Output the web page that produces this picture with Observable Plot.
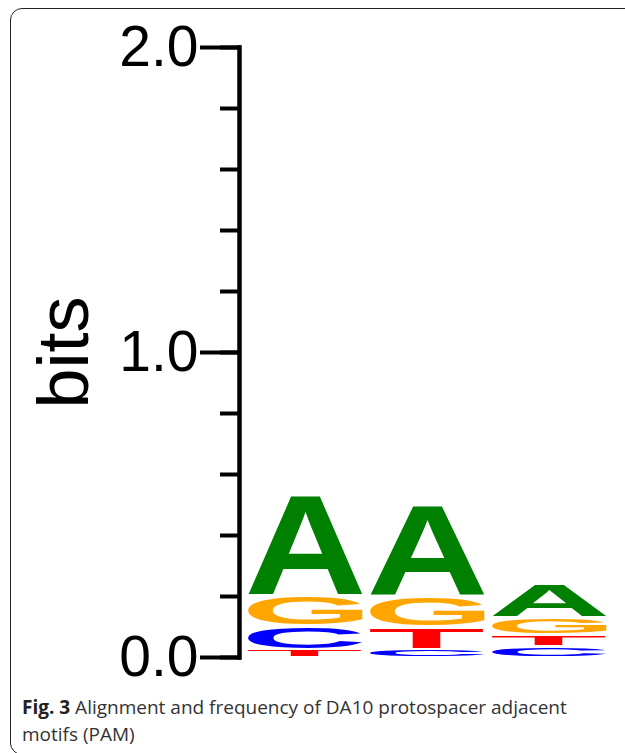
<!DOCTYPE html>
<html>
<head>
<meta charset="utf-8">
<script src="https://cdn.jsdelivr.net/npm/d3@7"></script>
<script src="https://cdn.jsdelivr.net/npm/@observablehq/plot@0.6"></script>
<style>
html, body { margin: 0; padding: 0; background: #fff; width: 625px; height: 753px; overflow: hidden; }
#frame { position: absolute; left: 10px; top: 8px; width: 700px; height: 747px; border: 1.5px solid #222; border-radius: 12px; box-sizing: border-box; }
#chart { position: absolute; left: 0; top: 0; }
#caption { position: absolute; left: 22px; top: 694px; width: 570px; font-family: "Open Sans"; font-size: 19px; line-height: 27px; color: #333; }
#caption b { color: #222; }
</style>
</head>
<body>
<div id="frame"></div>
<div id="chart"></div>
<div id="caption"><b>Fig. 3</b> Alignment and frequency of DA10 protospacer adjacent motifs (PAM)</div>
<script>
// Data (bits per letter at each PAM position)
const positions = [1, 2, 3];
const letters = ["A", "C", "G", "T"];
const bitsA = [0.334, 0.305, 0.111];
const bitsC = [0.077, 0.025, 0.036];
const bitsG = [0.100, 0.100, 0.057];
const bitsT = [0.025, 0.073, 0.038];
const letterColors = ["#008000", "#0000ff", "#ffa500", "#ff0000"];
const yMinorTicks = [0, 0.2, 0.4, 0.6, 0.8, 1.0, 1.2, 1.4, 1.6, 1.8, 2.0];
const yMajorTicks = [0, 1, 2];
const yLabel = "bits";

const bitsByLetter = {A: bitsA, C: bitsC, G: bitsG, T: bitsT};
const table = [];
positions.forEach((p, i) => {
  const col = letters.map(L => ({pos: p, letter: L, bits: bitsByLetter[L][i]}))
    .sort((a, b) => a.bits - b.bits);
  let acc = 0;
  for (const d of col) { d.y1 = acc; acc += d.bits; d.y2 = acc; table.push(d); }
});

const F = 100;
const chart = Plot.plot({
  width: 625,
  height: 690,
  marginTop: 47,
  marginBottom: 33,
  marginLeft: 239,
  marginRight: 18,
  style: {fontFamily: "Liberation Sans", background: "transparent", color: "#000"},
  x: {type: "band", domain: positions, paddingInner: 0.06, paddingOuter: 0, insetLeft: 8, axis: null},
  y: {domain: [0, 2]},
  color: {domain: letters, range: letterColors},
  marks: [
    Plot.text(table, {x: "pos", y: "y1", text: "letter", fill: "letter", fontSize: F, fontWeight: "bold",
      fontFamily: "Liberation Sans", textAnchor: "start", lineAnchor: "bottom", ariaLabel: "logo"}),
    Plot.frame({anchor: "left", strokeWidth: 4.5, stroke: "#000"}),
    Plot.axisY({ticks: yMinorTicks, tickSize: 17, tickFormat: () => "", strokeWidth: 4, strokeLinecap: "square", label: null}),
    Plot.axisY({ticks: yMajorTicks, tickSize: 37, tickPadding: 4, tickFormat: d3.format(".1f"), fontSize: 57, strokeWidth: 4, strokeLinecap: "square", label: null}),
    Plot.text([yLabel], {frameAnchor: "left", dx: -175, rotate: -90, fontSize: 72, textAnchor: "middle", lineAnchor: "middle"})
  ]
});
document.getElementById("chart").append(chart);

// Stretch each letter glyph to fill its stacked cell (positions from Plot's scales)
const xs = chart.scale("x"), ys = chart.scale("y");
const W = xs.bandwidth;
const ctx = document.createElement("canvas").getContext("2d");
ctx.font = `bold ${F}px "Liberation Sans"`;
let g = chart.querySelector('g[aria-label="logo"]');
if (!g) g = chart.querySelector('g[aria-label="text"]');
if (g) g.removeAttribute("transform"); // drop the band-centre offset; we place band starts below
const els = g ? g.querySelectorAll("text") : [];
els.forEach((el, i) => {
  const d = table[i];
  if (!d) return;
  const m = ctx.measureText(d.letter);
  const left = -m.actualBoundingBoxLeft, right = m.actualBoundingBoxRight;
  const top = -m.actualBoundingBoxAscent, bottom = m.actualBoundingBoxDescent;
  const x0 = xs.apply(d.pos);
  let yTop = ys.apply(d.y2), yBot = ys.apply(d.y1);
  const H0 = yBot - yTop;
  const inset = Math.min(1.5, H0 * 0.12);
  yTop += inset; yBot -= inset;
  const sx = W / (right - left), sy = (yBot - yTop) / (bottom - top);
  el.removeAttribute("y");
  el.removeAttribute("dy");
  el.setAttribute("text-anchor", "start");
  el.setAttribute("transform", `translate(${x0 - left * sx},${yTop - top * sy}) scale(${sx},${sy})`);
});
</script>
</body>
</html>
